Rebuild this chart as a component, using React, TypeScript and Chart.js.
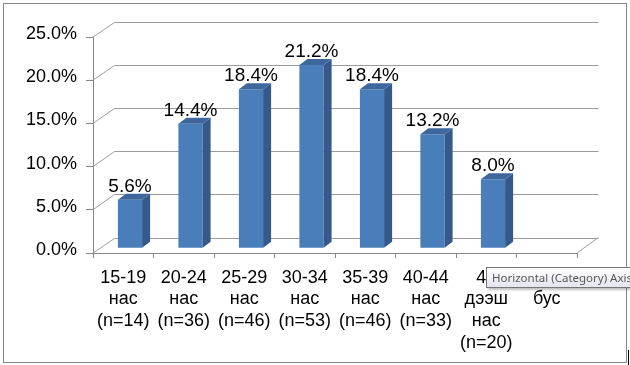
import React, { useEffect, useRef } from "react";
import { Chart, registerables } from "chart.js";

Chart.register(...registerables);

const categories: string[][] = [
  ["15-19", "нас", "(n=14)"],
  ["20-24", "нас", "(n=36)"],
  ["25-29", "нас", "(n=46)"],
  ["30-34", "нас", "(n=53)"],
  ["35-39", "нас", "(n=46)"],
  ["40-44", "нас", "(n=33)"],
  ["45", "дээш", "нас", "(n=20)"],
  ["", "бус"],
];
const shares: (number | null)[] = [5.6, 14.4, 18.4, 21.2, 18.4, 13.2, 8.0, null];
const yTicks: number[] = [0, 5, 10, 15, 20, 25];

const FONT = "'Liberation Sans', Arial, sans-serif";
const WALL_DX = 21.5;
const WALL_DY = -15.5;
const BAR_DX = 8;
const BAR_DY = -6;
const SHIFT_X = (WALL_DX - BAR_DX) / 2;
const SHIFT_Y = (WALL_DY - BAR_DY) / 2;

const threeD = {
  id: "threeD",
  beforeDatasetsDraw(chart: any) {
    const ctx = chart.ctx;
    const { left, right, bottom } = chart.chartArea;
    const ys = chart.scales.y;
    ctx.save();
    ctx.strokeStyle = "#9c9c9c";
    ctx.lineWidth = 1;
    yTicks.forEach((v) => {
      const yf = ys.getPixelForValue(v);
      const yb = Math.round(yf + WALL_DY) + 0.5;
      ctx.beginPath();
      ctx.moveTo(left + WALL_DX, yb);
      ctx.lineTo(right + WALL_DX, yb);
      ctx.stroke();
      ctx.beginPath();
      ctx.moveTo(left, yf);
      ctx.lineTo(left + WALL_DX, yb);
      ctx.stroke();
    });
    ctx.beginPath();
    ctx.moveTo(right, bottom);
    ctx.lineTo(right + WALL_DX, bottom + WALL_DY);
    ctx.stroke();
    ctx.restore();
    ctx.save();
    ctx.translate(SHIFT_X, SHIFT_Y);
  },
  afterDatasetsDraw(chart: any) {
    const ctx = chart.ctx;
    const meta = chart.getDatasetMeta(0);
    meta.data.forEach((bar: any, i: number) => {
      if (shares[i] == null) return;
      const { x, y, base, width } = bar.getProps(["x", "y", "base", "width"], true);
      const l = x - width / 2;
      const r = x + width / 2;
      ctx.fillStyle = "#35598a";
      ctx.beginPath();
      ctx.moveTo(r, y);
      ctx.lineTo(r + BAR_DX, y + BAR_DY);
      ctx.lineTo(r + BAR_DX, base + BAR_DY);
      ctx.lineTo(r, base);
      ctx.closePath();
      ctx.fill();
      ctx.fillStyle = "#3d679d";
      ctx.beginPath();
      ctx.moveTo(l, y);
      ctx.lineTo(l + BAR_DX, y + BAR_DY);
      ctx.lineTo(r + BAR_DX, y + BAR_DY);
      ctx.lineTo(r, y);
      ctx.closePath();
      ctx.fill();
    });
    ctx.restore();
    ctx.save();
    ctx.fillStyle = "#000";
    ctx.font = `19px ${FONT}`;
    ctx.textAlign = "center";
    ctx.textBaseline = "alphabetic";
    meta.data.forEach((bar: any, i: number) => {
      const v = shares[i];
      if (v == null) return;
      const { x, y } = bar.getProps(["x", "y"], true);
      ctx.fillText(v.toFixed(1) + "%", x + SHIFT_X, y + SHIFT_Y + BAR_DY - 2);
    });
    ctx.restore();
  },
};

export default function App() {
  const ref = useRef<HTMLCanvasElement>(null);
  useEffect(() => {
    if (!ref.current) return;
    const chart = new Chart(ref.current, {
      type: "bar",
      data: {
        labels: categories,
        datasets: [
          {
            data: shares,
            backgroundColor: "#4a7ebb",
            borderWidth: 0,
            barPercentage: 0.4,
            categoryPercentage: 1,
            clip: false as any,
          },
        ],
      },
      options: {
        animation: false,
        responsive: false,
        layout: { padding: { top: 37, right: 53, left: 0, bottom: 0 } },
        plugins: { legend: { display: false }, tooltip: { enabled: false } },
        scales: {
          x: {
            grid: {
              offset: true,
              drawOnChartArea: false,
              drawTicks: true,
              tickLength: 5,
              color: "#868686",
            },
            border: { display: true, color: "#868686" },
            ticks: {
              autoSkip: false,
              maxRotation: 0,
              minRotation: 0,
              padding: 9,
              color: "#000",
              font: { family: FONT, size: 18, lineHeight: 1.2 },
            },
            afterFit: (s: any) => {
              s.height = 112;
            },
          },
          y: {
            min: 0,
            max: 25,
            afterBuildTicks: (s: any) => {
              s.ticks = yTicks.map((v) => ({ value: v }));
            },
            grid: {
              drawOnChartArea: false,
              drawTicks: true,
              tickLength: 7,
              color: "#868686",
            },
            border: { display: true, color: "#868686" },
            ticks: {
              padding: 9,
              labelOffset: -3,
              color: "#000",
              font: { family: FONT, size: 18 },
              callback: (v: any) => Number(v).toFixed(1) + "%",
            },
            afterFit: (s: any) => {
              s.width = 93;
            },
          },
        },
      },
      plugins: [threeD],
    });
    return () => chart.destroy();
  }, []);

  return (
    <div style={{ position: "absolute", left: 0, top: 0, width: 630, height: 365, background: "#fff", overflow: "hidden" }}>
      <canvas ref={ref} width={630} height={365} style={{ position: "absolute", left: 0, top: 0 }} />
      <div
        style={{
          position: "absolute",
          left: 3,
          top: 3,
          width: 622,
          height: 358,
          border: "1px solid #868686",
          pointerEvents: "none",
        }}
      />
      <div
        style={{
          position: "absolute",
          left: 486,
          top: 267,
          height: 19,
          paddingLeft: 5,
          paddingRight: 6,
          border: "1px solid #767676",
          background: "linear-gradient(#ffffff, #e4e5f0)",
          boxShadow: "2px 2px 2px rgba(0,0,0,0.25)",
          fontFamily: "'Noto Sans', 'DejaVu Sans', sans-serif",
          fontSize: 11.5,
          lineHeight: "19px",
          color: "#575757",
          whiteSpace: "nowrap",
        }}
      >
        Horizontal (Category) Axis
      </div>
      <div style={{ position: "absolute", left: 628, top: 350, width: 1, height: 15, background: "#000" }} />
    </div>
  );
}
